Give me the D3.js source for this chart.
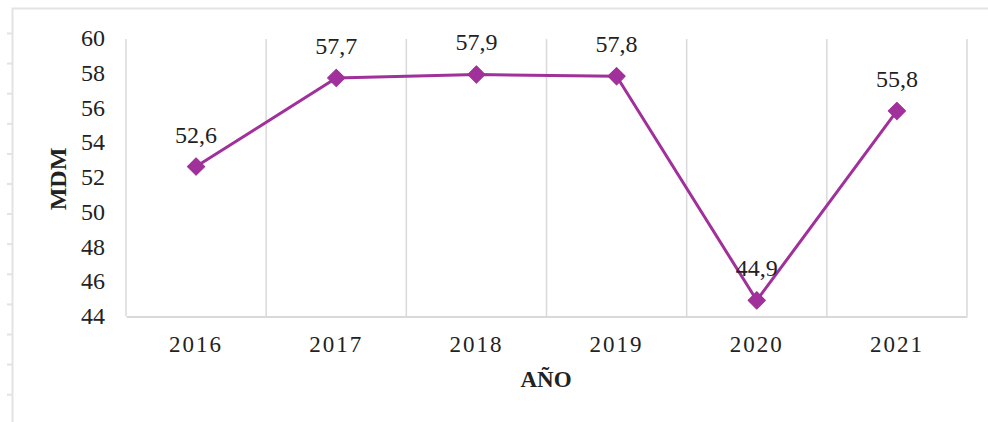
<!DOCTYPE html>
<html>
<head>
<meta charset="utf-8">
<script src="https://cdn.jsdelivr.net/npm/d3@7"></script>
<style>
  body { margin: 0; background: #fff; }
  svg { display: block; }
  text { font-family: "Liberation Serif", "Times New Roman", serif; fill: #222; }
</style>
</head>
<body>
<script>
// data
var years = ["2016", "2017", "2018", "2019", "2020", "2021"];
var mdm = [52.6, 57.7, 57.9, 57.8, 44.9, 55.8];
var yTicks = [44, 46, 48, 50, 52, 54, 56, 58, 60];

var W = 988, H = 422;
var plot = {left: 126, right: 967, top: 38, bottom: 316};
var purple = "#a0309a", grid = "#d9d9d9";

var svg = d3.select("body").append("svg")
    .attr("width", W)
    .attr("height", H);

// outer frame of the chart object (left and top edges show in the picture)
svg.append("path")
    .attr("d", "M12.5," + H + "V8.5H" + W)
    .attr("fill", "none")
    .attr("stroke", "#e3e3e3")
    .attr("stroke-width", 2);

// little marks on the left edge
svg.selectAll(".edge-tick")
    .data(d3.range(13))
    .enter().append("line")
    .attr("class", "edge-tick")
    .attr("x1", 7).attr("x2", 12)
    .attr("y1", function(i) { return 33.5 + i * 30.1; })
    .attr("y2", function(i) { return 33.5 + i * 30.1; })
    .attr("stroke", "#e3e3e3")
    .attr("stroke-width", 2);

var x = d3.scaleBand()
    .domain(years)
    .range([plot.left, plot.right]);

var y = d3.scaleLinear()
    .domain([44, 60])
    .range([plot.bottom, plot.top]);

// vertical gridlines on the category boundaries
var bounds = years.map(function(d) { return x(d); }).concat([plot.right]);
svg.selectAll(".vgrid")
    .data(bounds)
    .enter().append("line")
    .attr("class", "vgrid")
    .attr("x1", function(d) { return d; })
    .attr("x2", function(d) { return d; })
    .attr("y1", plot.top + 1)
    .attr("y2", plot.bottom)
    .attr("stroke", grid)
    .attr("stroke-width", 1.5);

// x axis
var xAxis = svg.append("g")
    .attr("transform", "translate(0," + (plot.bottom + 0.5) + ")")
    .call(d3.axisBottom(x).tickSize(0).tickPadding(14));
xAxis.select(".domain").attr("stroke", grid).attr("stroke-width", 2);
xAxis.selectAll("text")
    .style("font-family", "'Liberation Serif', serif")
    .style("font-size", "23px")
    .style("letter-spacing", "2px")
    .attr("fill", "#222")
    .attr("dy", "0.95em");

// y axis
var yAxis = svg.append("g")
    .attr("transform", "translate(" + plot.left + ",0)")
    .call(d3.axisLeft(y).tickValues(yTicks).tickSize(0).tickPadding(21));
yAxis.select(".domain").remove();
yAxis.selectAll("text")
    .style("font-family", "'Liberation Serif', serif")
    .style("font-size", "24px")
    .attr("fill", "#222");

// axis titles
svg.append("text")
    .attr("x", 546)
    .attr("y", 387)
    .attr("text-anchor", "middle")
    .style("font-size", "23px")
    .style("font-weight", "bold")
    .text("AÑO");

svg.append("text")
    .attr("transform", "translate(66,179) rotate(-90)")
    .attr("text-anchor", "middle")
    .style("font-size", "24px")
    .style("font-weight", "bold")
    .text("MDM");

// the line
var line = d3.line()
    .x(function(d, i) { return x(years[i]) + x.bandwidth() / 2; })
    .y(function(d) { return y(d); });

svg.append("path")
    .datum(mdm)
    .attr("d", line)
    .attr("fill", "none")
    .attr("stroke", purple)
    .attr("stroke-width", 3);

// diamond markers
svg.selectAll(".marker")
    .data(mdm)
    .enter().append("path")
    .attr("class", "marker")
    .attr("d", d3.symbol().type(d3.symbolSquare).size(150))
    .attr("transform", function(d, i) {
        return "translate(" + (x(years[i]) + x.bandwidth() / 2) + "," + y(d) + ") rotate(45)";
    })
    .attr("fill", purple)
    .attr("stroke", purple)
    .attr("stroke-width", 1)
    .attr("stroke-linejoin", "round");

// value labels
svg.selectAll(".val")
    .data(mdm)
    .enter().append("text")
    .attr("class", "val")
    .attr("x", function(d, i) { return x(years[i]) + x.bandwidth() / 2; })
    .attr("y", function(d) { return y(d) - 24; })
    .attr("text-anchor", "middle")
    .style("font-size", "24px")
    .text(function(d) { return d.toFixed(1).replace(".", ","); });
</script>
</body>
</html>
